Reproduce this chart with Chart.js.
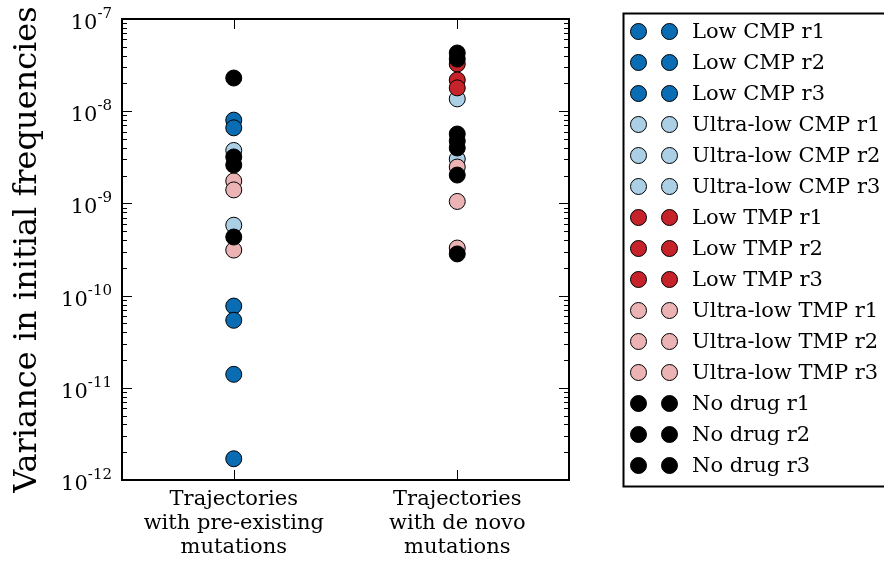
<!DOCTYPE html>
<html>
<head>
<meta charset="utf-8">
<script src="https://cdn.jsdelivr.net/npm/chart.js@4/dist/chart.umd.min.js"></script>
<style>
  html, body { margin: 0; padding: 0; background: #ffffff; }
  #wrap { width: 884px; height: 561px; }
</style>
</head>
<body>
<div id="wrap"><canvas id="chart" width="884" height="561"></canvas></div>
<script>
// Category labels (x axis), one multi-line label per trajectory class
const categories = [
  ['Trajectories', 'with pre-existing', 'mutations'],
  ['Trajectories', 'with de novo', 'mutations']
];
// Powers of ten labelled on the y axis
const yExponents = [-12, -11, -10, -9, -8, -7];

const conditions = ['Low CMP', 'Ultra-low CMP', 'Low TMP', 'Ultra-low TMP', 'No drug'];
const conditionColors = ['#0a6db3', '#abcfe5', '#c5222a', '#ebb3b3', '#000000'];
const replicates = ['r1', 'r2', 'r3'];

// Variance in initial frequencies: [pre-existing values], [de novo values]
const lowCMP_r1 = [[8.0e-9, 7.7e-11], []];
const lowCMP_r2 = [[6.6e-9, 5.4e-11], []];
const lowCMP_r3 = [[1.4e-11, 1.7e-12], []];
const ultraLowCMP_r1 = [[3.75e-9], [1.36e-8]];
const ultraLowCMP_r2 = [[5.8e-10], []];
const ultraLowCMP_r3 = [[], [3.03e-9]];
const lowTMP_r1 = [[], [3.25e-8]];
const lowTMP_r2 = [[], [2.18e-8]];
const lowTMP_r3 = [[], [1.79e-8]];
const ultraLowTMP_r1 = [[1.75e-9], [2.48e-9]];
const ultraLowTMP_r2 = [[1.40e-9], [1.05e-9]];
const ultraLowTMP_r3 = [[3.12e-10], [3.28e-10]];
const noDrug_r1 = [[2.29e-8, 4.32e-10], [4.28e-8, 5.66e-9]];
const noDrug_r2 = [[3.19e-9], [3.68e-8, 4.75e-9, 2.03e-9]];
const noDrug_r3 = [[2.61e-9], [3.99e-9, 2.83e-10]];

const seriesValues = [
  lowCMP_r1, lowCMP_r2, lowCMP_r3,
  ultraLowCMP_r1, ultraLowCMP_r2, ultraLowCMP_r3,
  lowTMP_r1, lowTMP_r2, lowTMP_r3,
  ultraLowTMP_r1, ultraLowTMP_r2, ultraLowTMP_r3,
  noDrug_r1, noDrug_r2, noDrug_r3
];

const SERIF = '"DejaVu Serif", "Liberation Serif", serif';

const datasets = seriesValues.map((vals, i) => {
  const cond = Math.floor(i / 3);
  const points = [];
  vals.forEach((list, catIdx) => list.forEach(v => points.push({ x: catIdx, y: v })));
  return {
    label: conditions[cond] + ' ' + replicates[i % 3],
    data: points,
    backgroundColor: conditionColors[cond],
    borderColor: '#000000',
    borderWidth: 1,
    pointRadius: 8,
    pointHoverRadius: 8,
    // later series are painted on top
    order: seriesValues.length - i
  };
});

// Axes frame, inward ticks, power-of-ten labels and the two-marker legend
const decorations = {
  id: 'decorations',
  afterDatasetsDraw(chart) {
    const { ctx, chartArea: a, scales } = chart;
    const xs = scales.x, ys = scales.y;
    ctx.save();
    ctx.strokeStyle = '#000';
    ctx.lineWidth = 1;
    ctx.beginPath();
    // y ticks (major and minor) on both sides
    for (let e = -12; e <= -7; e++) {
      for (let m = 1; m <= 9; m++) {
        const v = m * Math.pow(10, e);
        if (v > 1.0001e-7) break;
        const y = Math.round(ys.getPixelForValue(v)) + 0.5;
        const len = m === 1 ? 10 : 5;
        ctx.moveTo(a.left, y); ctx.lineTo(a.left + len, y);
        ctx.moveTo(a.right, y); ctx.lineTo(a.right - len, y);
      }
    }
    // x ticks at the categories, bottom and top
    categories.forEach((c, i) => {
      const x = Math.round(xs.getPixelForValue(i)) + 0.5;
      ctx.moveTo(x, a.bottom); ctx.lineTo(x, a.bottom - 10);
      ctx.moveTo(x, a.top); ctx.lineTo(x, a.top + 10);
    });
    ctx.stroke();
    // frame
    ctx.lineWidth = 2;
    ctx.strokeRect(a.left, a.top, a.right - a.left, a.bottom - a.top);

    // y tick labels 10^e
    ctx.fillStyle = '#000';
    ctx.textAlign = 'right';
    ctx.textBaseline = 'alphabetic';
    yExponents.forEach(e => {
      const y = ys.getPixelForValue(Math.pow(10, e));
      const right = a.left - 10;
      ctx.font = '15px ' + SERIF;
      const expText = String(e);
      const ew = ctx.measureText(expText).width;
      ctx.fillText(expText, right, y - 1);
      ctx.font = '21px ' + SERIF;
      ctx.fillText('10', right - ew, y + 10);
    });

    // legend
    const lx = 623.5, ly = 13.5;
    ctx.lineWidth = 2;
    ctx.strokeRect(lx, ly, 300, 473);
    ctx.font = '21px ' + SERIF;
    ctx.textAlign = 'left';
    ctx.textBaseline = 'middle';
    chart.data.datasets.forEach((ds, i) => {
      const cy = 31.5 + 31 * i;
      [638.5, 669.5].forEach(cx => {
        ctx.beginPath();
        ctx.arc(cx, cy, 8, 0, Math.PI * 2);
        ctx.fillStyle = ds.backgroundColor;
        ctx.fill();
        ctx.lineWidth = 1;
        ctx.strokeStyle = '#000';
        ctx.stroke();
      });
      ctx.fillStyle = '#000';
      ctx.fillText(ds.label, 692, cy + 1);
    });
    ctx.restore();
  }
};

new Chart(document.getElementById('chart'), {
  type: 'scatter',
  data: { datasets },
  options: {
    responsive: false,
    animation: false,
    devicePixelRatio: 1,
    layout: { padding: { left: 0, top: 19, right: 315, bottom: 0 } },
    plugins: { legend: { display: false }, tooltip: { enabled: false } },
    scales: {
      x: {
        type: 'linear',
        min: -0.5,
        max: 1.5,
        grid: { display: false, drawTicks: false },
        border: { display: false },
        afterBuildTicks: s => { s.ticks = categories.map((c, i) => ({ value: i })); },
        afterFit: s => { s.height = 81; },
        ticks: {
          color: '#000',
          font: { family: SERIF, size: 21, lineHeight: '24px' },
          padding: 8,
          maxRotation: 0,
          autoSkip: false,
          callback: v => categories[v]
        }
      },
      y: {
        type: 'logarithmic',
        min: 1e-12,
        max: 1e-7,
        grid: { display: false },
        border: { display: false },
        afterFit: s => { s.width = 122; },
        ticks: { display: false },
        title: {
          display: true,
          text: 'Variance in initial frequencies',
          color: '#000',
          font: { family: SERIF, size: 32, lineHeight: 1.2 },
          padding: { top: 8, bottom: 0 }
        }
      }
    }
  },
  plugins: [decorations]
});
</script>
</body>
</html>
